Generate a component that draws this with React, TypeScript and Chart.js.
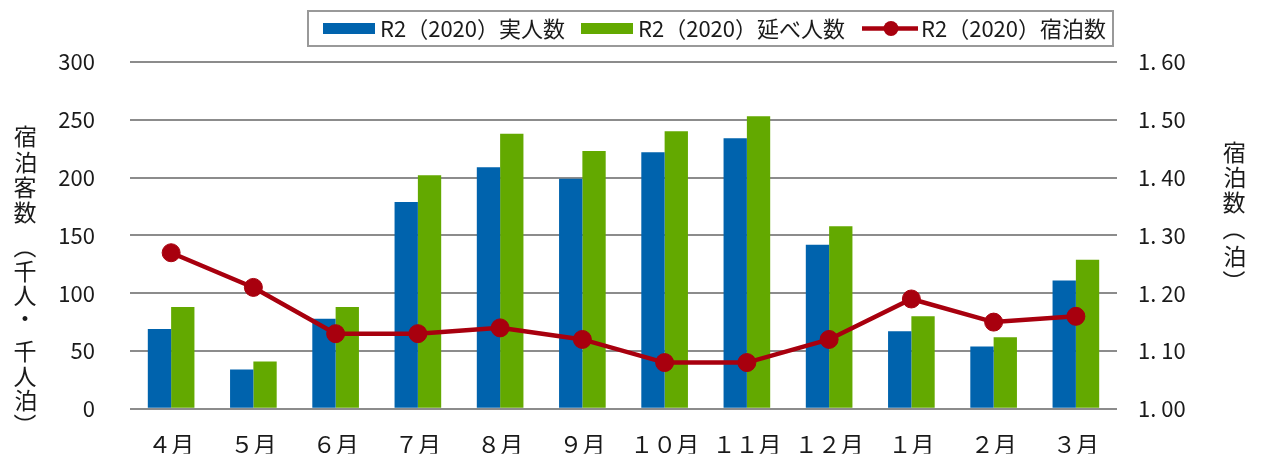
import React, { useEffect, useRef } from 'react';
import { Chart, registerables } from 'chart.js';

Chart.register(...registerables);

const months = ['４月', '５月', '６月', '７月', '８月', '９月', '１０月', '１１月', '１２月', '１月', '２月', '３月'];
const actualGuests = [69, 34, 78, 179, 209, 199, 222, 234, 142, 67, 54, 111];
const totalGuests = [88, 41, 88, 202, 238, 223, 240, 253, 158, 80, 62, 129];
const nightsPerGuest = [1.27, 1.21, 1.13, 1.13, 1.14, 1.12, 1.08, 1.08, 1.12, 1.19, 1.15, 1.16];
const seriesLabels = ['R2（2020）実人数', 'R2（2020）延べ人数', 'R2（2020）宿泊数'];
const leftAxisRange = [0, 300, 50];
const rightAxisRange = [1.0, 1.6, 0.1];
const leftTitle = '宿泊客数（千人・千人泊）';
const rightTitle = '宿泊数（泊）';

const BLUE = '#0063AD';
const GREEN = '#63A900';
const RED = '#A8000E';
const TEXT = '#1a1a1a';
const GRID = '#8c8c8c';
const FONT = '"Noto Sans CJK JP", "Noto Sans", sans-serif';

function drawGlyph(ctx: CanvasRenderingContext2D, ch: string, cx: number, cy: number, rotate: boolean) {
  ctx.save();
  ctx.translate(cx, cy);
  if (rotate) ctx.rotate(Math.PI / 2);
  ctx.textAlign = 'left';
  ctx.textBaseline = 'alphabetic';
  const m = ctx.measureText(ch);
  const gx = (-m.actualBoundingBoxLeft + m.actualBoundingBoxRight) / 2;
  const gy = (-m.actualBoundingBoxAscent + m.actualBoundingBoxDescent) / 2;
  ctx.fillText(ch, -gx, -gy);
  ctx.restore();
}

function drawTextVCentered(ctx: CanvasRenderingContext2D, s: string, x: number, cy: number) {
  ctx.textAlign = 'left';
  ctx.textBaseline = 'alphabetic';
  const m = ctx.measureText(s);
  const gy = (-m.actualBoundingBoxAscent + m.actualBoundingBoxDescent) / 2;
  ctx.fillText(s, x, cy - gy);
  return x + m.width;
}

const decorPlugin = {
  id: 'decor',
  afterDraw(chart: any) {
    const ctx: CanvasRenderingContext2D = chart.ctx;
    ctx.save();
    ctx.fillStyle = TEXT;
    ctx.font = `23px ${FONT}`;
    const leftYs = [136.5, 162, 187.5, 212, 254, 271.5, 295, 318, 351.5, 376, 400, 417.5];
    Array.from(leftTitle).forEach((ch, i) => drawGlyph(ctx, ch, 25, leftYs[i], ch === '（' || ch === '）'));
    const rightYs = [152, 177, 202.5, 236, 256, 274];
    Array.from(rightTitle).forEach((ch, i) => drawGlyph(ctx, ch, 1234, rightYs[i], ch === '（' || ch === '）'));

    // legend
    ctx.font = `22px ${FONT}`;
    const cy = 28.5;
    const starts = [323, 581, 862];
    let end = 0;
    starts.forEach((sx, i) => {
      if (i < 2) {
        ctx.fillStyle = i === 0 ? BLUE : GREEN;
        ctx.fillRect(sx, cy - 5.5, 52, 11);
      } else {
        ctx.strokeStyle = RED;
        ctx.lineWidth = 4.5;
        ctx.beginPath();
        ctx.moveTo(sx, cy);
        ctx.lineTo(sx + 56, cy);
        ctx.stroke();
        ctx.fillStyle = RED;
        ctx.beginPath();
        ctx.arc(sx + 29, cy, 7.5, 0, Math.PI * 2);
        ctx.fill();
      }
      ctx.fillStyle = TEXT;
      end = drawTextVCentered(ctx, seriesLabels[i], sx + (i < 2 ? 57 : 59), cy);
    });
    const right = Math.max(1113, end + 6);
    ctx.strokeStyle = '#999';
    ctx.lineWidth = 2;
    ctx.strokeRect(308, 11, right - 308, 35);
    ctx.restore();
  },
};

export default function App() {
  const ref = useRef<HTMLCanvasElement>(null);
  useEffect(() => {
    if (!ref.current) return;
    const chart = new Chart(ref.current, {
      type: 'bar',
      data: {
        labels: months,
        datasets: [
          {
            type: 'line',
            label: seriesLabels[2],
            data: nightsPerGuest,
            yAxisID: 'y1',
            borderColor: RED,
            backgroundColor: RED,
            borderWidth: 4.5,
            pointRadius: 9,
            pointBackgroundColor: RED,
            pointBorderColor: RED,
            pointBorderWidth: 1,
            order: 0,
          } as any,
          {
            type: 'bar',
            label: seriesLabels[0],
            data: actualGuests,
            yAxisID: 'y',
            backgroundColor: BLUE,
            categoryPercentage: 0.567,
            barPercentage: 1,
            order: 1,
          },
          {
            type: 'bar',
            label: seriesLabels[1],
            data: totalGuests,
            yAxisID: 'y',
            backgroundColor: GREEN,
            categoryPercentage: 0.567,
            barPercentage: 1,
            order: 2,
          },
        ],
      },
      options: {
        responsive: false,
        animation: false,
        layout: { padding: { top: 62, left: 0, right: 0, bottom: 0 } },
        plugins: { legend: { display: false }, tooltip: { enabled: false } },
        scales: {
          x: {
            grid: { display: false },
            border: { display: false },
            ticks: { color: TEXT, font: { family: FONT, size: 23 }, padding: 14, maxRotation: 0, autoSkip: false },
            afterFit: (s: any) => { s.height = 45; },
          },
          y: {
            position: 'left',
            min: leftAxisRange[0],
            max: leftAxisRange[1],
            grid: { color: GRID, lineWidth: 2, drawTicks: false },
            border: { display: false },
            ticks: { stepSize: leftAxisRange[2], color: TEXT, font: { family: FONT, size: 22 }, padding: 35 },
            afterFit: (s: any) => { s.width = 130; },
          },
          y1: {
            position: 'right',
            min: rightAxisRange[0],
            max: rightAxisRange[1],
            grid: { display: false, drawTicks: false },
            border: { display: false },
            ticks: {
              stepSize: rightAxisRange[2],
              color: TEXT,
              font: { family: FONT, size: 22 },
              padding: 21,
              callback: (v: any) => Number(v).toFixed(2).replace('.', '. '),
            },
            afterFit: (s: any) => { s.width = 145; },
          },
        },
      },
      plugins: [decorPlugin],
    });
    return () => chart.destroy();
  }, []);
  return (
    <div style={{ position: 'absolute', left: 0, top: 0, width: 1262, height: 457 }}>
      <canvas ref={ref} width={1262} height={457} />
    </div>
  );
}
